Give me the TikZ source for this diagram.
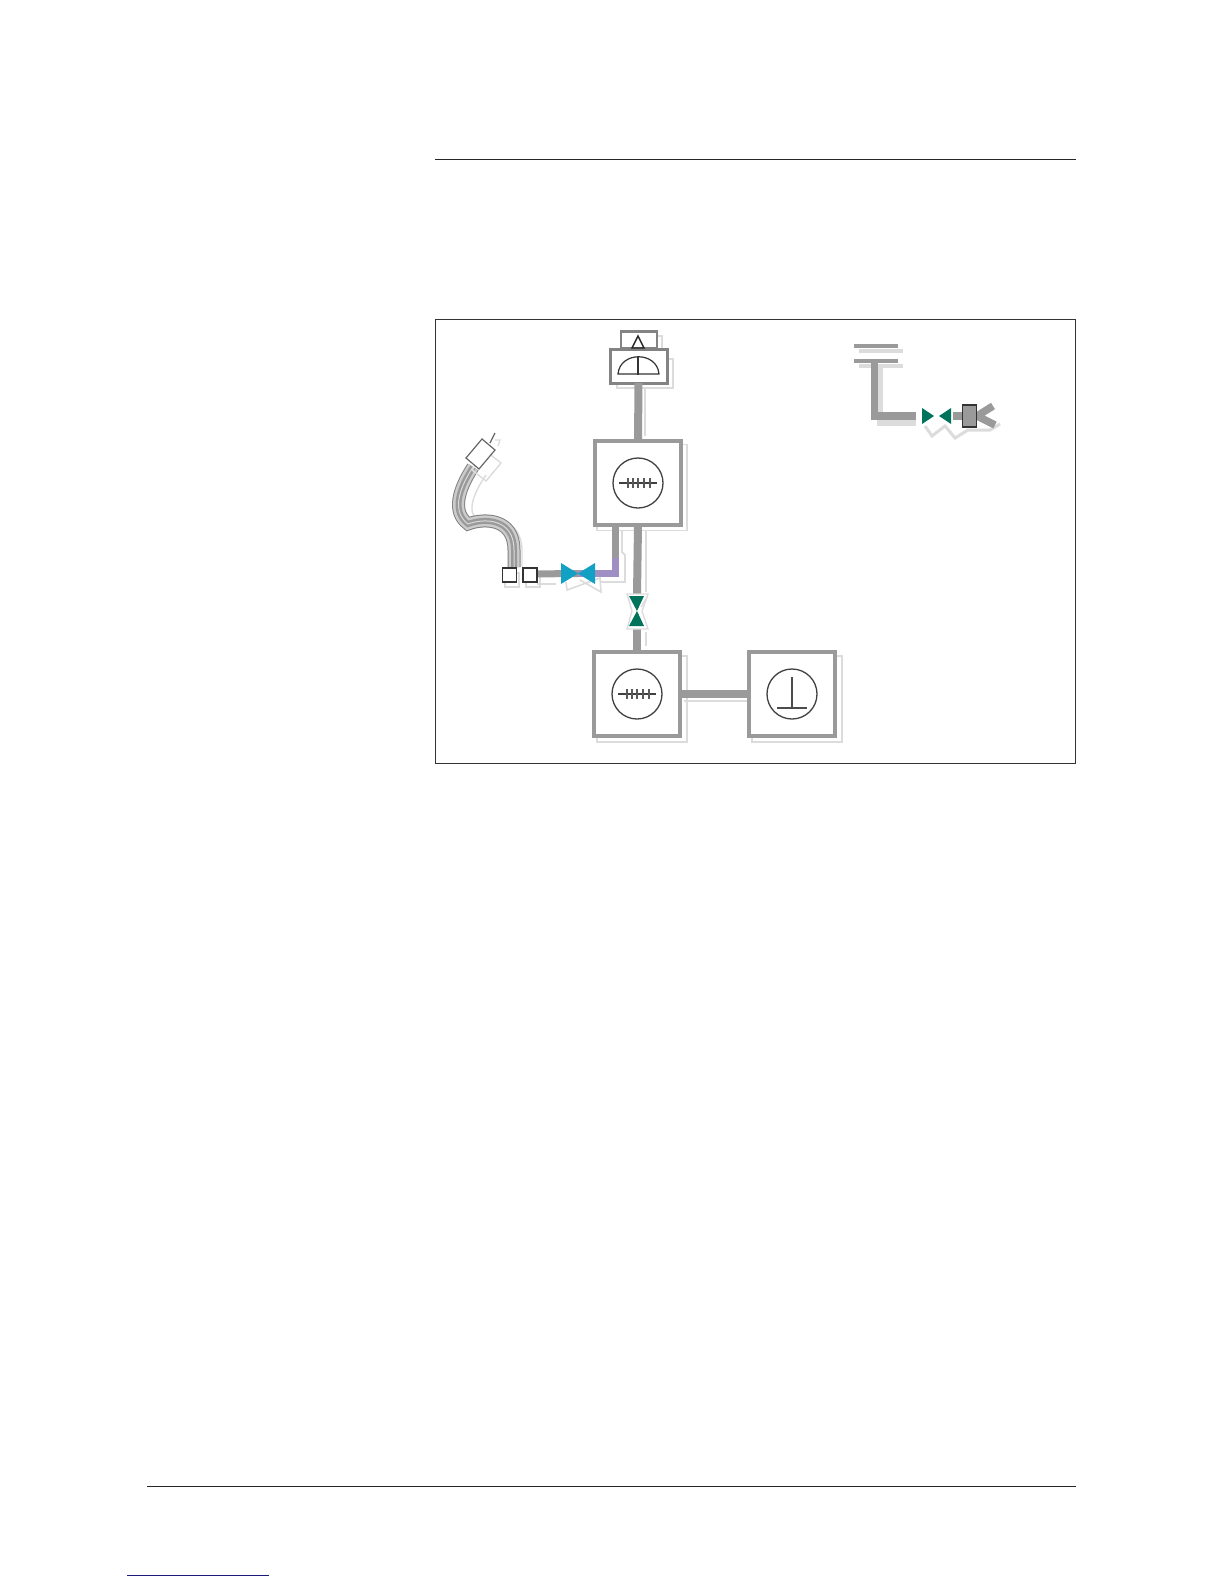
\documentclass[tikz,border=0pt]{standalone}
\usetikzlibrary{calc}
\definecolor{pipegray}{HTML}{9A9A9A}
\definecolor{palegray}{HTML}{DCDCDC}
\definecolor{valveteal}{HTML}{00735A}
\definecolor{valvecyan}{HTML}{12A0C4}
\definecolor{pipepurple}{HTML}{A08FC4}
\definecolor{linkblue}{HTML}{1A1A7A}
\tikzset{
  every node/.style={outer sep=0pt,inner sep=0pt},
  rule/.style={line width=1pt,draw=black!85},
  unitbox/.style={draw=pipegray,line width=4.5pt,fill=white,minimum width=86pt,minimum height=84pt},
  unitshade/.style={draw=palegray,line width=1.8pt,fill=white,minimum width=90pt,minimum height=86pt},
  dial/.style={circle,draw=black!75,line width=1.3pt,minimum size=50pt},
  pipe/.style={draw=pipegray,line width=8pt},
  pipeshade/.style={draw=palegray,line width=1.8pt},
  thin mark/.style={draw=black!70,line width=1.2pt},
  port/.style={draw=black!80,line width=1.3pt,fill=white,minimum size=14pt},
  portshade/.style={draw=palegray,line width=1.4pt,minimum size=14pt},
  tealfill/.style={fill=valveteal},
  cyanfill/.style={fill=valvecyan},
}
\begin{document}
\begin{tikzpicture}[x=1pt,y=-1pt]
\useasboundingbox (0,0) rectangle (1224,1584);
\fill[white] (0,0) rectangle (1224,1584);

% page rules and frame
\coordinate (topL) at (435,159); \coordinate (topR) at (1076,159);
\coordinate (botL) at (147,1486); \coordinate (botR) at (1076,1486);
\coordinate (linkL) at (127,1575); \coordinate (linkR) at (269,1575);
\draw[rule] (topL) -- (topR);
\draw[rule] (botL) -- (botR);
\draw[line width=1pt,draw=linkblue] (linkL) -- (linkR);
\node[draw=black!80,line width=.9pt,minimum width=640pt,minimum height=444pt] (frame) at (755.5,541) {};

% shadows of boxes
\node[unitshade] (s1) at (642,487.5) {};
\node[unitshade] (s2) at (642,699) {};
\node[unitshade] (s3) at (797,699) {};
\draw[pipeshade,fill=white] (617,359) rectangle (673,388);
\draw[pipeshade] (650,336) -- (662,336) -- (662,349);
% pipe shadows
\draw[pipeshade] (645,388) -- (645,436);
\draw[pipeshade] (646,530) -- (646,592);
\draw[pipeshade] (646,632) -- (646,646);
\draw[pipeshade] (622,530) -- (622,552) -- (625,555) -- (625,582) -- (600,582);
\draw[pipeshade] (684,701) -- (747,701);
\draw[pipeshade] (537,584) -- (556,584);

% units
\node[unitbox] (boxA) at (638,483) {};
\node[unitbox] (boxB) at (637,694) {};
\node[unitbox] (boxC) at (792,694) {};

% meter
\node[draw=pipegray!85!black,line width=2.4pt,fill=white,minimum width=36pt,minimum height=17pt] (gauge) at (639,340) {};
\node[draw=pipegray!85!black,line width=3pt,fill=white,minimum width=57pt,minimum height=34pt] (meter) at (638.5,366) {};
\draw[black!85,line width=1.4pt] (632,348) -- (638,336) -- (644,348) -- cycle;
\draw[black!80,line width=1.2pt] (618,374) .. controls (620,351) and (657,351) .. (659,374) -- cycle;
\draw[black!80,line width=1.2pt] (638,357) -- (638,375);

% valves coordinates
\coordinate (vA) at (578,573.5);
\coordinate (vB) at (637,611);
\coordinate (vC) at (936.5,416);

% connectors
\draw[pipe] (meter.south) -- (boxA.north);
\draw[pipe] (boxA.south) -- ($(vB)+(0,-16)$);
\draw[pipe] ($(vB)+(0,14)$) -- (boxB.north);
\draw[pipe] (boxB.east) -- (boxC.west);

% dials
\node[dial,fill=white] (dA) at (638,483) {};
\node[dial,fill=white] (dB) at (637,694) {};
\node[dial,fill=white] (dC) at (792,694) {};
\foreach \c in {dA,dB}{
  \draw[black!75,line width=1.5pt] ($(\c)+(-19,0)$) -- ($(\c)+(19,0)$);
  \foreach \d in {-10,-5,0,6,12}
    \draw[black!65,line width=1.2pt] ($(\c)+(\d,-5)$) -- ($(\c)+(\d,5)$);
}
\draw[thin mark] ($(dC)+(0,-17)$) -- ($(dC)+(0,14)$);
\draw[thin mark] ($(dC)+(-15,14)$) -- ($(dC)+(15,14)$);

% hose and plug
\coordinate (hoseEnd) at (514,567);
\draw[palegray,line width=1.4pt] (486,475) .. controls (472,495) and (468,512) .. (476,518)
  .. controls (490,512) and (522,520) .. (522,550) -- (522,567);
\draw[black!50,line width=13pt] (473,467) .. controls (458,490) and (452,512) .. (468,524)
  .. controls (484,518) and (514,518) .. (514,550) -- (hoseEnd);
\draw[black!20,line width=11pt] (473,467) .. controls (458,490) and (452,512) .. (468,524)
  .. controls (484,518) and (514,518) .. (514,550) -- (hoseEnd);
\draw[pipegray,line width=6pt] (473,467) .. controls (458,490) and (452,512) .. (468,524)
  .. controls (484,518) and (514,518) .. (514,550) -- (hoseEnd);
\draw[black!15,line width=1pt] (473,467) .. controls (458,490) and (452,512) .. (468,524)
  .. controls (484,518) and (514,518) .. (514,550) -- (hoseEnd);
\draw[palegray,line width=1.4pt] (487,452) -- (501,463) -- (486,481) -- (472,470) -- cycle;
\draw[palegray,line width=1.4pt] (495,440) -- (500,440) -- (498,446);
\draw[black!60,line width=1.2pt,fill=white] (482,439) -- (495,450) -- (479,469) -- (466,458) -- cycle;
\draw[black!60,line width=1.2pt] (490,443) -- (495,433);

% ports
\node[portshade] (ps1) at (512,580) {};
\node[portshade] (ps2) at (533,580) {};
\draw[pipe,line width=7pt] (530,574) -- (vA);
\node[port] (p1) at (509.5,575) {};
\node[port] (p2) at (530,575) {};

% cyan valve with purple pipe
\draw[pipe,line width=7pt] (615,527) -- (615,560);
\draw[draw=pipepurple,line width=7pt] (615,558) -- (615,573.5) -- (vA);
\draw[palegray,line width=1.6pt] (566,582) -- (567,590) -- (600,578) -- (601,592) -- (580,580);
\path[cyanfill] (561,563) -- (561,584) -- (vA) -- cycle;
\path[cyanfill] (595,563) -- (595,584) -- (vA) -- cycle;

% teal vertical valve
\draw[palegray,line width=1.4pt,fill=white] (627,594) -- (648,594) -- (642,611) -- (648,629) -- (627,629) -- (632,611) -- cycle;
\draw[palegray,line width=1.2pt] (647,597) -- (641,607);
\path[tealfill] (629,596) -- (644,596) -- (vB) -- cycle;
\path[tealfill] (629,626) -- (644,626) -- (vB) -- cycle;

% tank, upper right
\coordinate (tankA) at (854,346); \coordinate (tankB) at (898,346);
\coordinate (tankC) at (854,361); \coordinate (tankD) at (898,361);
\draw[palegray,line width=4pt] (859,351) -- (903,351);
\draw[palegray,line width=4pt] (859,366) -- (903,366);
\draw[palegray,line width=6pt] (880,368) -- (880,423) -- (916,423);
\draw[pipegray,line width=4pt] (tankA) -- (tankB);
\draw[pipegray,line width=4pt] (tankC) -- (tankD);
\draw[palegray,line width=3pt] (925,426) -- (932,436) -- (945,426) -- (955,438) -- (968,430) -- (990,430) -- (1000,424);
\draw[pipegray,line width=7.5pt] (874.5,361) -- (874.5,416) -- (916,416);
\path[tealfill] (922,408) -- (922,424) -- (934,416) -- cycle;
\path[tealfill] (951,408) -- (951,424) -- (939,416) -- cycle;
\coordinate (forkA) at (993,406);
\coordinate (forkB) at (995,425);
\coordinate (forkC) at (977,416);
\draw[pipegray,line width=7.5pt] (953,416) -- (963,416);
\draw[pipegray,line width=7.5pt] (forkA) -- (forkC) -- (forkB);
\node[draw=black!80,line width=1.5pt,fill=pipegray,minimum width=14pt,minimum height=22pt] (regulator) at (969.5,416) {};
\end{tikzpicture}
\end{document}
